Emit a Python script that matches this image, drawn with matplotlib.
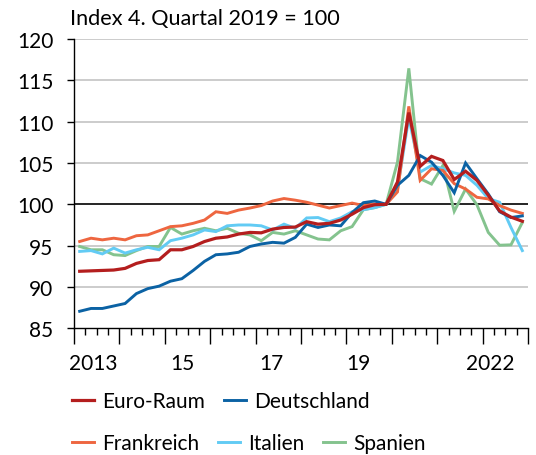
import matplotlib
matplotlib.use("Agg")
import matplotlib.pyplot as plt
import numpy as np

plt.rcParams['font.family'] = ['Lato', 'DejaVu Sans']

# Quarterly data 2013 Q1 .. 2022 Q4 (index Q4 2019 = 100)
euro = [91.9, 91.95, 92.0, 92.05, 92.25, 92.85, 93.2, 93.3, 94.5, 94.5,
        94.9, 95.5, 95.9, 96.05, 96.4, 96.6, 96.55, 97.0, 97.2, 97.25,
        97.9, 97.6, 97.7, 98.1, 98.8, 99.6, 99.95, 100.0, 102.7, 111.1,
        104.6, 105.8, 105.3, 103.0, 104.0, 102.9, 101.1, 99.2, 98.45, 97.95]
deutschland = [87.06, 87.4, 87.4, 87.7, 88.0, 89.2, 89.8, 90.1, 90.7, 91.0,
               92.0, 93.1, 93.9, 94.0, 94.2, 94.9, 95.2, 95.4, 95.3, 96.0,
               97.6, 97.2, 97.5, 97.4, 99.0, 100.2, 100.4, 100.0, 102.3, 103.5,
               105.9, 105.1, 103.5, 101.4, 105.0, 103.1, 101.25, 99.1, 98.4, 98.6]
frankreich = [95.5, 95.9, 95.7, 95.9, 95.7, 96.2, 96.3, 96.8, 97.3, 97.4,
              97.7, 98.1, 99.1, 98.9, 99.3, 99.55, 99.85, 100.4, 100.7, 100.5,
              100.25, 99.9, 99.55, 99.85, 100.15, 99.85, 100.05, 100.0, 101.5, 111.85,
              102.9, 104.3, 104.1, 102.5, 101.85, 100.85, 100.65, 99.85, 99.3, 98.9]
italien = [94.3, 94.4, 94.0, 94.7, 94.1, 94.5, 94.8, 94.5, 95.6, 95.9,
           96.3, 96.9, 96.7, 97.4, 97.5, 97.5, 97.4, 96.9, 97.6, 97.1,
           98.35, 98.4, 97.9, 98.35, 99.1, 99.35, 99.6, 100.0, 101.85, 110.5,
           103.9, 104.7, 104.3, 103.8, 103.5, 102.3, 100.7, 100.25, 97.2, 94.4]
spanien = [94.9, 94.5, 94.5, 93.9, 93.8, 94.4, 94.9, 94.9, 97.2, 96.4,
           96.8, 97.1, 96.8, 97.1, 96.5, 96.3, 95.6, 96.6, 96.4, 96.8,
           96.3, 95.8, 95.7, 96.8, 97.3, 99.35, 99.6, 100.0, 105.1, 116.45,
           103.1, 102.45, 104.7, 99.15, 101.85, 99.95, 96.6, 95.05, 95.1, 97.8]

series_names = ["Euro-Raum", "Deutschland", "Frankreich", "Italien", "Spanien"]
colors = {"Euro-Raum": "#B41E1E", "Deutschland": "#0B62A4", "Frankreich": "#EE6640",
          "Italien": "#62CBF4", "Spanien": "#84C38E"}
year_labels = ["2013", "15", "17", "19", "2022"]
year_label_pos = [1.17, 9.06, 16.85, 24.6, 36.15]
y_ticks = [85, 90, 95, 100, 105, 110, 115, 120]
title = "Index 4. Quartal 2019 = 100"

data = {"Euro-Raum": euro, "Deutschland": deutschland, "Frankreich": frankreich,
        "Italien": italien, "Spanien": spanien}
n = len(euro)
x = np.arange(n)

fig = plt.figure(figsize=(5.36, 4.56), dpi=100)
ax = fig.add_axes([74/536, 1-329.3/456, 454/536, 289.3/456])

for yv in y_ticks[1:]:
    if yv == 100:
        ax.axhline(yv, color="black", lw=1.2, zorder=1)
    else:
        ax.axhline(yv, color="#BFBFBF", lw=1.1, zorder=0)

zorders = {"Spanien": 2, "Italien": 3, "Frankreich": 4, "Deutschland": 5, "Euro-Raum": 6}
lines = {}
for name in series_names:
    lw = 2.3 if name == "Euro-Raum" else 2.1
    (ln,) = ax.plot(x, data[name], color=colors[name], lw=lw, zorder=zorders[name],
                    solid_joinstyle="miter", label=name)
    lines[name] = ln

ax.set_xlim(-0.5, n - 0.5)
ax.set_ylim(85, 120)
ax.set_yticks(y_ticks)
ax.set_yticklabels([str(v) for v in y_ticks])
ax.tick_params(axis="y", direction="out", length=4.8, width=1.0, pad=10, labelsize=15,
               color="black")

ax.set_xticks(np.arange(-0.5, n, 4))
ax.set_xticks(np.arange(-0.5, n, 1), minor=True)
ax.set_xticklabels([])
ax.tick_params(axis="x", which="major", direction="out", length=11.3, width=1.0)
ax.tick_params(axis="x", which="minor", direction="out", length=5, width=1.0)

for lab, pos in zip(year_labels, year_label_pos):
    ax.text(pos, -0.1407, lab, transform=ax.get_xaxis_transform(), ha="center",
            va="baseline", fontsize=15)

for s in ["top", "right"]:
    ax.spines[s].set_visible(False)
ax.spines["left"].set_linewidth(1.0)
ax.spines["bottom"].set_linewidth(1.0)

fig.text(70/536, 1-25/456, title, fontsize=15.6, ha="left", va="baseline")

leg_kw = dict(frameon=False, fontsize=15, handlelength=1.06, handletextpad=0.38,
              columnspacing=0.9, borderpad=0, borderaxespad=0, loc="center left")
fig.legend([lines["Euro-Raum"], lines["Deutschland"]], ["Euro-Raum", "Deutschland"],
           ncol=2, bbox_to_anchor=(72/536, 1-402/456), **leg_kw)
fig.legend([lines["Frankreich"], lines["Italien"], lines["Spanien"]],
           ["Frankreich", "Italien", "Spanien"],
           ncol=3, bbox_to_anchor=(72/536, 1-444/456), **leg_kw)

fig.savefig("out.png", dpi=100)
